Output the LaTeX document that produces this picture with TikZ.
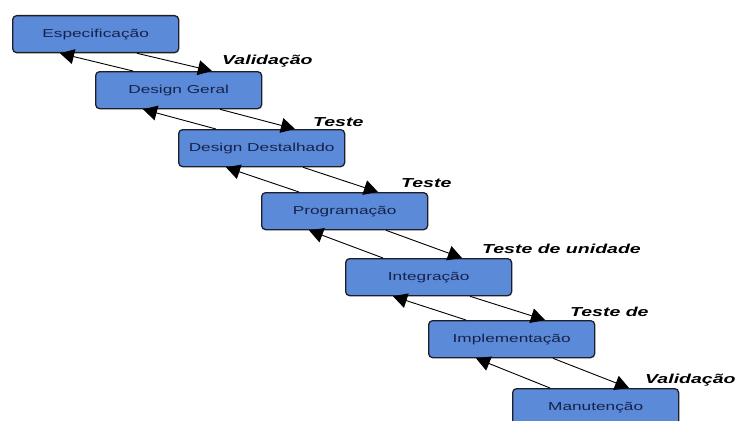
\documentclass[tikz,border=0pt]{standalone}
\usepackage{fontspec}
\setmainfont{Liberation Sans}[FakeStretch=1.5]
\usetikzlibrary{arrows.meta,calc}
\definecolor{boxfill}{HTML}{5B8AD8}
\definecolor{boxtext}{HTML}{16224A}
\definecolor{boxline}{HTML}{1E1E28}
\begin{document}
\begin{tikzpicture}[x=1pt,y=-1pt,
  phase/.style={draw=boxline,line width=1.3pt,fill=boxfill,rounded corners=4pt,
    minimum width=166pt,minimum height=37pt,inner sep=0pt,anchor=north west,
    text=boxtext,font=\fontsize{11.5}{13}\selectfont},
  lab/.style={anchor=west,inner sep=0pt,font=\fontsize{13}{15}\selectfont\bfseries\itshape},
  flow/.style={line width=0.9pt,-{Triangle[length=14pt,width=15pt]}}]
\useasboundingbox (0,0) rectangle (738,420);
\node[phase] (b1) at (12,15) {Especificação};
\node[phase] (b2) at (95,71) {Design Geral};
\node[phase] (b3) at (178,129) {Design Destalhado};
\node[phase] (b4) at (261,192) {Programação};
\node[phase] (b5) at (345,258) {Integração};
\node[phase] (b6) at (428,320) {Implementação};
\node[phase] (b7) at (512,388) {Manutenção};
\foreach \a/\b in {b1/b2,b2/b3,b3/b4,b4/b5,b5/b6,b6/b7}{
  \draw[flow] ($(\a.south west)+(125,0)$) -- ($(\b.north west)+(117,0)$);
  \draw[flow] ($(\b.north west)+(38,0)$) -- ($(\a.south west)+(48,0)$);
}
\node[lab] (l1) at (222,61) {Validação};
\node[lab] (l2) at (313,122) {Teste};
\node[lab] (l3) at (401,183) {Teste};
\node[lab] (l4) at (482,249) {Teste de unidade};
\node[lab] (l5) at (570,312) {Teste de};
\node[lab] (l6) at (645,380) {Validação};
\end{tikzpicture}
\end{document}
